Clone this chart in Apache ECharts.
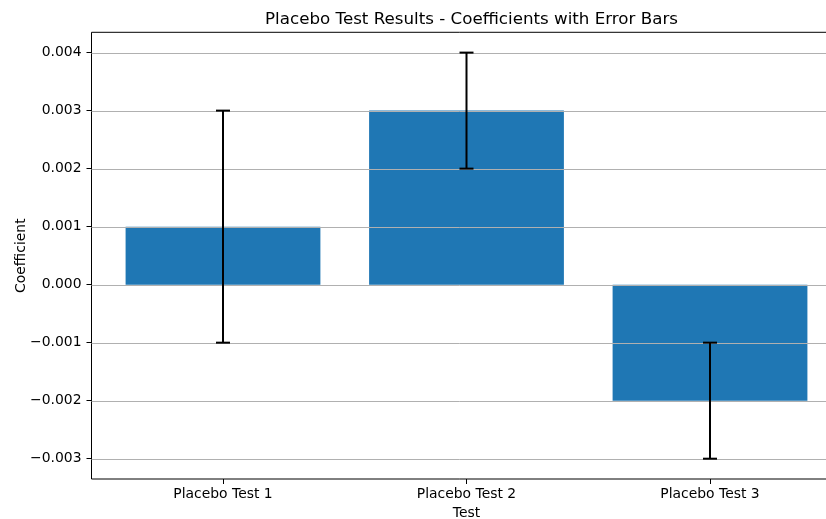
<!DOCTYPE html>
<html>
<head>
<meta charset="utf-8">
<script src="https://cdn.jsdelivr.net/npm/echarts@6/dist/echarts.min.js"></script>
<style>
  html, body { margin: 0; padding: 0; background: #fff; }
  #chart { width: 826px; height: 519px; }
</style>
</head>
<body>
<div id="chart"></div>
<script>
// Placebo test coefficients and their error margins
const categories = ['Placebo Test 1', 'Placebo Test 2', 'Placebo Test 3'];
const coefficients = [0.001, 0.003, -0.002];
const errors = [0.002, 0.001, 0.001];
const yTicks = [-0.003, -0.002, -0.001, 0.000, 0.001, 0.002, 0.003, 0.004];

const FONT = 'DejaVu Sans';
const BAR_WIDTH = 0.8;   // in category units
const CAP_PX = 14;

const positions = categories.map((_, i) => i);
const barData = positions.map((x, i) => [x, coefficients[i]]);
const errData = positions.map((x, i) => [x, coefficients[i] - errors[i], coefficients[i] + errors[i]]);
const gridData = yTicks.map(v => [0, v]);

function fmtTick(v) {
  const s = Math.abs(v).toFixed(3);
  return (v < -1e-12 ? '\u2212' : '') + s;
}

const chart = echarts.init(document.getElementById('chart'), null, { renderer: 'canvas' });

chart.setOption({
  animation: false,
  backgroundColor: '#ffffff',
  textStyle: { fontFamily: FONT },
  title: {
    text: 'Placebo Test Results - Coefficients with Error Bars',
    left: 466.5,
    top: 6,
    textAlign: 'center',
    textStyle: { fontFamily: FONT, fontSize: 16.7, fontWeight: 'normal', color: '#000' }
  },
  grid: {
    left: 91.5,
    top: 32.3,
    width: 750,
    height: 446.7,
    outerBoundsMode: 'none',
    containLabel: false,
    show: true,
    borderColor: '#000',
    borderWidth: 1,
    backgroundColor: 'transparent'
  },
  xAxis: {
    type: 'value',
    min: -0.54,
    max: 2.54,
    name: 'Test',
    nameLocation: 'middle',
    nameGap: 27,
    nameMoveOverlap: false,
    nameTextStyle: { fontFamily: FONT, fontSize: 13.9, color: '#000' },
    axisLine: { show: false, onZero: false },
    splitLine: { show: false },
    axisTick: {
      show: true, length: 5, customValues: positions,
      lineStyle: { color: '#000', width: 1 }
    },
    axisLabel: {
      customValues: positions,
      margin: 8,
      fontFamily: FONT, fontSize: 13.9, color: '#000',
      formatter: v => categories[Math.round(v)]
    }
  },
  yAxis: {
    type: 'value',
    min: -0.00335,
    max: 0.00435,
    name: 'Coefficient',
    nameLocation: 'middle',
    nameGap: 63,
    nameMoveOverlap: false,
    nameRotate: 90,
    nameTextStyle: { fontFamily: FONT, fontSize: 13.9, color: '#000' },
    axisLine: { show: false, onZero: false },
    splitLine: { show: false },
    axisTick: {
      show: true, length: 5, customValues: yTicks,
      lineStyle: { color: '#000', width: 1 }
    },
    axisLabel: {
      customValues: yTicks,
      margin: 10,
      fontFamily: FONT, fontSize: 13.9, color: '#000',
      formatter: fmtTick
    }
  },
  series: [
    {
      // bars
      type: 'custom',
      z: 2,
      data: barData,
      renderItem: function (params, api) {
        const x = api.value(0), y = api.value(1);
        const p0 = api.coord([x - BAR_WIDTH / 2, 0]);
        const p1 = api.coord([x + BAR_WIDTH / 2, y]);
        return {
          type: 'rect',
          shape: {
            x: Math.min(p0[0], p1[0]),
            y: Math.min(p0[1], p1[1]),
            width: Math.abs(p1[0] - p0[0]),
            height: Math.abs(p1[1] - p0[1])
          },
          style: { fill: '#1f77b4' }
        };
      }
    },
    {
      // horizontal grid lines, drawn over the bars
      type: 'custom',
      z: 3,
      silent: true,
      data: gridData,
      renderItem: function (params, api) {
        const cs = params.coordSys;
        const p = api.coord([api.value(0), api.value(1)]);
        const y = Math.round(p[1]) + 0.5;
        return {
          type: 'line',
          shape: { x1: cs.x, y1: y, x2: cs.x + cs.width, y2: y },
          style: { stroke: '#b0b0b0', lineWidth: 1 }
        };
      }
    },
    {
      // error bars
      type: 'custom',
      z: 4,
      data: errData,
      renderItem: function (params, api) {
        const x = api.value(0);
        const lo = api.coord([x, api.value(1)]);
        const hi = api.coord([x, api.value(2)]);
        const st = { stroke: '#000', lineWidth: 2 };
        return {
          type: 'group',
          children: [
            { type: 'line', shape: { x1: lo[0], y1: lo[1], x2: hi[0], y2: hi[1] }, style: st },
            { type: 'line', shape: { x1: lo[0] - CAP_PX / 2, y1: lo[1], x2: lo[0] + CAP_PX / 2, y2: lo[1] }, style: st },
            { type: 'line', shape: { x1: hi[0] - CAP_PX / 2, y1: hi[1], x2: hi[0] + CAP_PX / 2, y2: hi[1] }, style: st }
          ]
        };
      }
    }
  ]
});
</script>
</body>
</html>
